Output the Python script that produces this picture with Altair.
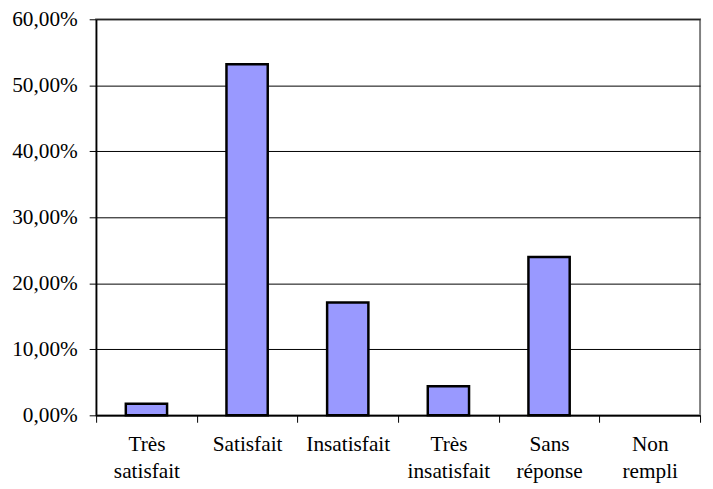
import altair as alt
import pandas as pd

categories = ["Très satisfait", "Satisfait", "Insatisfait", "Très insatisfait", "Sans réponse", "Non rempli"]
values = [0.0175, 0.532, 0.171, 0.044, 0.240, 0.0]
y_ticks = [0, 0.1, 0.2, 0.3, 0.4, 0.5, 0.6]

df = pd.DataFrame({"cat": categories, "val": values})

FONT = "Liberation Serif"

chart = alt.Chart(df).mark_bar(
    width=alt.RelativeBandSize(0.41),
    fill="#9999FF",
    stroke="black",
    strokeWidth=2.5,
).encode(
    x=alt.X("cat:N", sort=categories, title=None,
            scale=alt.Scale(paddingInner=0, paddingOuter=0),
            axis=alt.Axis(labelAngle=0, tickBand="extent", tickSize=7, tickColor="black",
                          domainColor="black", domainWidth=1.5, labelColor="black",
                          labelFont=FONT, labelFontSize=21.5, labelPadding=12, labelLineHeight=27,
                          labelExpr="split(datum.label, ' ')", grid=False)),
    y=alt.Y("val:Q", title=None,
            scale=alt.Scale(domain=[0, 0.6], nice=False),
            axis=alt.Axis(values=y_ticks, labelExpr="replace(format(datum.value, '.2%'), '.', ',')",
                          tickSize=7, tickColor="black", domainColor="black", domainWidth=1.5,
                          labelColor="black", labelFont=FONT, labelFontSize=21.5, labelPadding=12,
                          grid=True, gridColor="black", gridWidth=1, gridOpacity=1)),
    strokeOpacity=alt.condition("datum.val > 0", alt.value(1), alt.value(0)),
    fillOpacity=alt.condition("datum.val > 0", alt.value(1), alt.value(0)),
).properties(
    width=610,
    height=400,
    autosize=alt.AutoSizeParams(type="none"),
    padding={"left": 89, "top": 9, "right": 5, "bottom": 71},
).configure_view(
    stroke="#808080",
    strokeWidth=2,
)

chart.save("out.html", embed_options={"renderer": "svg", "actions": False})
